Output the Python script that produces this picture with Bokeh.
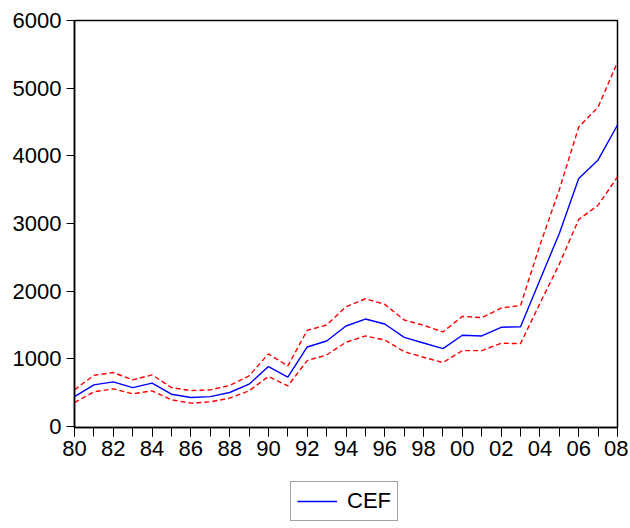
from bokeh.plotting import figure
from bokeh.layouts import column
from bokeh.models import FixedTicker, Legend, LegendItem, Range1d
from bokeh.embed import file_html
from bokeh.resources import INLINE

years = list(range(1980, 2009))
cef = [442, 615, 659, 575, 640, 477, 428, 442, 502, 625, 885, 728, 1175, 1264,
       1485, 1588, 1515, 1318, 1234, 1151, 1348, 1338, 1466, 1475, 2165, 2853,
       3665, 3940, 4455]
upper = [541, 757, 797, 689, 762, 575, 531, 541, 605, 748, 1072, 895, 1421, 1500,
         1770, 1888, 1805, 1574, 1495, 1397, 1628, 1608, 1751, 1788, 2680, 3500,
         4425, 4720, 5384]
lower = [354, 512, 556, 482, 527, 394, 345, 364, 419, 527, 738, 600, 974, 1057,
         1245, 1338, 1279, 1106, 1023, 944, 1121, 1121, 1230, 1225, 1820, 2400,
         3060, 3270, 3688]
y_ticks = [0, 1000, 2000, 3000, 4000, 5000, 6000]
x_major = list(range(1980, 2009, 2))
x_labels = {y: f"{y % 100:02d}" for y in x_major}
series_name = "CEF"

FONT = "Liberation Sans"

p = figure(frame_width=543, frame_height=407, output_backend="svg",
           toolbar_location=None,
           x_range=Range1d(1980, 2008), y_range=Range1d(-15, 6000),
           min_border_left=74, min_border_top=20, min_border_right=11,
           min_border_bottom=43)
p.xgrid.visible = False
p.ygrid.visible = False
p.outline_line_color = "black"
p.outline_line_width = 1.5
p.background_fill_color = "white"
p.border_fill_color = "white"

p.line(years, cef, line_color="#0000FF", line_width=1.4)
p.line(years, upper, line_color="#FF0000", line_width=1.4, line_dash="5 3")
p.line(years, lower, line_color="#FF0000", line_width=1.4, line_dash="5 3")

xa = p.xaxis[0]
xa.ticker = FixedTicker(ticks=x_major, minor_ticks=years)
xa.major_label_overrides = x_labels
xa.major_tick_out = 9
xa.major_tick_in = 0
xa.minor_tick_out = 9
xa.minor_tick_in = 0
xa.major_label_text_font = FONT
xa.major_label_text_font_size = "22px"
xa.major_label_text_color = "black"
xa.major_label_standoff = 4
xa.axis_line_color = "black"
xa.axis_line_width = 1.5
xa.major_tick_line_color = "black"
xa.minor_tick_line_color = "black"

ya = p.yaxis[0]
ya.ticker = FixedTicker(ticks=y_ticks)
ya.major_tick_out = 8
ya.major_tick_in = 0
ya.minor_tick_out = 0
ya.minor_tick_in = 0
ya.major_label_text_font = FONT
ya.major_label_text_font_size = "22px"
ya.major_label_text_color = "black"
ya.major_label_standoff = 5
ya.axis_line_color = "black"
ya.axis_line_width = 1.5
ya.major_tick_line_color = "black"

# legend strip below the chart (proxy line lies outside its visible range)
pl = figure(width=628, height=56, output_backend="svg", toolbar_location=None,
            x_range=Range1d(0, 1), y_range=Range1d(0, 1),
            min_border_left=0, min_border_right=0, min_border_top=0,
            min_border_bottom=0)
pl.axis.visible = False
pl.xgrid.visible = False
pl.ygrid.visible = False
pl.outline_line_color = None
r_leg = pl.line([5, 6], [5, 6], line_color="#0000FF", line_width=1.4)
legend = Legend(items=[LegendItem(label=series_name, renderers=[r_leg])],
                location=(216, 5), orientation="horizontal",
                label_text_font=FONT, label_text_font_size="22px",
                label_text_color="black",
                glyph_width=40, glyph_height=24, label_height=24,
                label_standoff=10, padding=6, margin=0,
                border_line_color="#444444", border_line_width=1.2,
                background_fill_alpha=1.0)
pl.add_layout(legend, "center")

layout = column(p, pl, spacing=0)
open("out.html", "w").write(file_html(layout, INLINE))
